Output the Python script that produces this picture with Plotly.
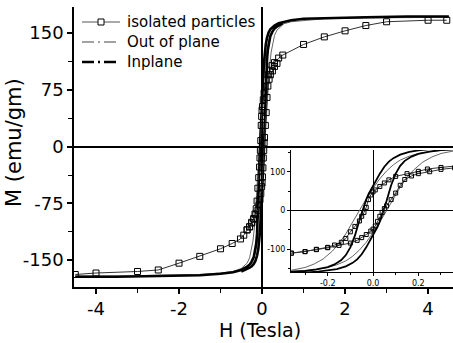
import plotly.graph_objects as go

# ---------------- data ----------------
# Isolated particles: descending-field branch (full range)
iso_desc_H = [4.45, 4.0, 3.0, 2.5, 2.0, 1.5, 1.0, 0.5, 0.4, 0.3, 0.24, 0.2, 0.15, 0.1, 0.07, 0.05, 0.03, 0.01, 0.0,
              -0.01, -0.02, -0.03, -0.04, -0.05, -0.06, -0.08, -0.1, -0.12, -0.14, -0.17, -0.2, -0.25, -0.3, -0.36,
              -0.44, -0.52, -0.72, -1.0, -1.5, -2.0, -2.5, -3.0, -4.0, -4.5]
iso_desc_M = [167, 167, 165, 160, 153, 145, 135, 121, 117, 111, 107, 101, 95, 88, 79, 71, 62, 53, 48,
              40, 28, 8, -5, -15, -27, -41, -55, -72, -82, -89, -95, -100, -106, -110,
              -117, -122, -128, -135, -145, -154, -163, -165, -167, -169]
# Isolated particles: ascending-field branch (low-field part)
iso_asc_H = [-0.36, -0.3, -0.25, -0.2, -0.15, -0.1, -0.07, -0.05, -0.03, -0.01, 0.0, 0.01, 0.02, 0.03, 0.04,
             0.05, 0.06, 0.08, 0.1, 0.12, 0.14, 0.17, 0.2, 0.25, 0.3, 0.36]
iso_asc_M = [-110, -106, -101, -96, -90, -84, -77, -70, -62, -53, -48, -40, -28, -15, -5,
             5, 12, 28, 45, 65, 80, 89, 95, 100, 106, 110]

# Out of plane
oop_desc_H = [4.5, 3.5, 2.5, 1.5, 1.0, 0.7, 0.5, 0.4, 0.3, 0.25, 0.2, 0.16, 0.12, 0.09, 0.06, 0.03, 0.0,
              -0.02, -0.04, -0.06, -0.08, -0.1, -0.12, -0.15, -0.18, -0.22, -0.26, -0.3, -0.36, -0.5, -0.7,
              -1.0, -1.5, -2.5, -3.5, -4.5]
oop_desc_M = [171, 171, 170, 169, 167, 165, 162, 159, 155, 152, 147, 140, 130, 118, 102, 82, 58,
              40, 20, 0, -20, -40, -60, -85, -105, -125, -138, -147, -154, -161, -165,
              -167, -169, -170, -171, -171]
oop_asc_H = [-0.5, -0.4, -0.3, -0.25, -0.2, -0.16, -0.12, -0.09, -0.06, -0.03, 0.0, 0.02, 0.04, 0.06, 0.08,
             0.1, 0.12, 0.15, 0.18, 0.22, 0.26, 0.3, 0.36, 0.5]
oop_asc_M = [-162, -159, -155, -152, -147, -140, -130, -118, -102, -82, -58, -40, -20, 0, 20,
             40, 60, 85, 105, 125, 138, 147, 154, 161]

# Inplane
inp_desc_H = [4.5, 3.5, 2.5, 1.5, 1.0, 0.7, 0.5, 0.4, 0.3, 0.25, 0.2, 0.16, 0.12, 0.09, 0.07, 0.05, 0.03, 0.01,
              0.0, -0.01, -0.02, -0.03, -0.04, -0.05, -0.06, -0.07, -0.08, -0.1, -0.12, -0.14, -0.17, -0.2,
              -0.25, -0.3, -0.36, -0.5, -0.7, -1.0, -1.5, -2.5, -3.5, -4.5]
inp_desc_M = [172, 172, 171, 170, 169, 167, 165, 163, 160, 158, 155, 151, 144, 135, 126, 113, 95, 75,
              65, 55, 42, 28, 12, -5, -25, -45, -65, -95, -115, -128, -139, -146,
              -152, -156, -159, -163, -166, -168, -170, -171, -172, -172]
inp_asc_H = [-0.5, -0.4, -0.3, -0.25, -0.2, -0.16, -0.12, -0.09, -0.07, -0.05, -0.03, -0.01, 0.0, 0.01, 0.02,
             0.03, 0.04, 0.05, 0.06, 0.07, 0.08, 0.1, 0.12, 0.14, 0.17, 0.2, 0.25, 0.3, 0.36, 0.5]
inp_asc_M = [-165, -163, -160, -158, -155, -151, -144, -135, -126, -113, -95, -75, -65, -55, -42,
             -28, -12, 5, 25, 45, 65, 95, 115, 128, 139, 146, 152, 156, 159, 163]

legend_names = ["isolated particles", "Out of plane", "Inplane"]

main_xticks = [-4, -2, 0, 2, 4]
main_xticklabels = ["-4", "-2", "0", "2", "4"]
main_yticks = [-150, -75, 0, 75, 150]
main_yticklabels = ["-150", "-75", "0", "75", "150"]
inset_xticks = [-0.2, 0.0, 0.2]
inset_xticklabels = ["-0.2", "0.0", "0.2"]
inset_yticks = [-100, 0, 100]
inset_yticklabels = ["-100", "0", "100"]

# ---------------- figure ----------------
FONT = "DejaVu Sans, Liberation Sans, Arial, sans-serif"
fig = go.Figure()

def add_series(xa, ya, msize, main):
    # out of plane (thin grey)
    for H, M in ((oop_desc_H, oop_desc_M), (oop_asc_H, oop_asc_M)):
        fig.add_trace(go.Scatter(x=H, y=M, mode="lines", xaxis=xa, yaxis=ya, showlegend=False,
                                 line=dict(color="#666666", width=1), hoverinfo="skip"))
    # inplane (thick black)
    for H, M in ((inp_desc_H, inp_desc_M), (inp_asc_H, inp_asc_M)):
        fig.add_trace(go.Scatter(x=H, y=M, mode="lines", xaxis=xa, yaxis=ya, showlegend=False,
                                 line=dict(color="black", width=2.6 if main else 1.8), hoverinfo="skip"))
    # isolated particles (open squares)
    for H, M in ((iso_desc_H, iso_desc_M), (iso_asc_H, iso_asc_M)):
        fig.add_trace(go.Scatter(x=H, y=M, mode="lines+markers", xaxis=xa, yaxis=ya, showlegend=False,
                                 line=dict(color="#333333", width=1),
                                 marker=dict(symbol="square-open", size=msize, color="black",
                                             line=dict(width=1)),
                                 hoverinfo="skip"))

add_series("x", "y", 6, True)
add_series("x2", "y2", 4, False)

L, R, T, B = 74, 0, 7, 56
W, Hh = 453, 343
pw, ph = W - L - R, Hh - T - B

def px_x(p):
    return (p - L) / pw

def px_y(p):
    return (Hh - B - p) / ph

inset_x0, inset_x1 = px_x(291), 1.0
inset_y0, inset_y1 = px_y(272), px_y(150)

# hand-built legend (rows 20 px apart, like the original)
legend_rows = [22, 42, 62]
legend_styles = [
    dict(color="#555555", width=1, dash="solid"),
    dict(color="#444444", width=1, dash="12px,4px,2px,4px"),
    dict(color="black", width=2.6, dash="12px,4px,2px,4px"),
]
shapes = []
annotations = []
for name, row, style in zip(legend_names, legend_rows, legend_styles):
    shapes.append(dict(type="line", xref="paper", yref="paper", x0=px_x(82), x1=px_x(120),
                       y0=px_y(row), y1=px_y(row), line=style, layer="above"))
    annotations.append(dict(text=name, x=px_x(125), y=px_y(row), xref="paper", yref="paper",
                            showarrow=False, xanchor="left", yanchor="middle",
                            font=dict(size=15, family=FONT, color="black")))
# square symbol for the "isolated particles" sample
shapes.append(dict(type="rect", xref="paper", yref="paper", x0=px_x(98), x1=px_x(104),
                   y0=px_y(legend_rows[0] + 3), y1=px_y(legend_rows[0] - 3),
                   line=dict(color="black", width=1), fillcolor="white", layer="above"))

annotations += [
    dict(text="M (emu/gm)", x=px_x(14), y=px_y(142), xref="paper", yref="paper", showarrow=False,
         textangle=-90, font=dict(size=21, family=FONT), xanchor="center", yanchor="middle"),
    dict(text="H (Tesla)", x=px_x(260), y=px_y(330), xref="paper", yref="paper", showarrow=False,
         font=dict(size=19, family=FONT), xanchor="center", yanchor="middle"),
]

fig.update_layout(
    width=W, height=Hh, margin=dict(l=L, r=R, t=T, b=B),
    paper_bgcolor="white", plot_bgcolor="white",
    font=dict(family=FONT, color="black"),
    showlegend=False,
    xaxis=dict(domain=[0, 1], range=[-4.53, 4.6], showgrid=False, zeroline=True, zerolinecolor="black",
               zerolinewidth=1.5, showline=True, linecolor="black", linewidth=1.5,
               ticks="outside", ticklen=5, tickwidth=1.5, tickcolor="black",
               tickvals=main_xticks, ticktext=main_xticklabels, tickfont=dict(size=18),
               minor=dict(ticks="outside", ticklen=4, tickwidth=1, tickcolor="black", tickvals=[-3, -1, 1, 3])),
    yaxis=dict(domain=[0, 1], range=[-185.5, 184.5], showgrid=False, zeroline=True, zerolinecolor="black",
               zerolinewidth=1.5, showline=True, linecolor="black", linewidth=1.5,
               ticks="outside", ticklen=5, tickwidth=1.5, tickcolor="black",
               tickvals=main_yticks, ticktext=main_yticklabels, tickfont=dict(size=18),
               minor=dict(ticks="outside", ticklen=4, tickwidth=1, tickcolor="black",
                          tickvals=[-112.5, -37.5, 37.5, 112.5])),
    xaxis2=dict(domain=[inset_x0, inset_x1], anchor="y2", range=[-0.362, 0.353], showgrid=False,
                zeroline=True, zerolinecolor="black", zerolinewidth=1, showline=True, linecolor="black",
                linewidth=1, ticks="outside", ticklen=3, tickcolor="black", tickvals=inset_xticks,
                ticktext=inset_xticklabels, tickfont=dict(size=8),
                minor=dict(ticks="outside", ticklen=2, tickcolor="black", tickvals=[-0.3, -0.1, 0.1, 0.3])),
    yaxis2=dict(domain=[inset_y0, inset_y1], anchor="x2", range=[-158.6, 156], showgrid=False,
                zeroline=True, zerolinecolor="black", zerolinewidth=1, showline=True, linecolor="black",
                linewidth=1, ticks="outside", ticklen=3, tickcolor="black", tickvals=inset_yticks,
                ticktext=inset_yticklabels, tickfont=dict(size=8),
                minor=dict(ticks="outside", ticklen=2, tickcolor="black", tickvals=[-150, -50, 50, 150])),
    shapes=shapes,
    annotations=annotations,
)

fig.write_html("out.html")
